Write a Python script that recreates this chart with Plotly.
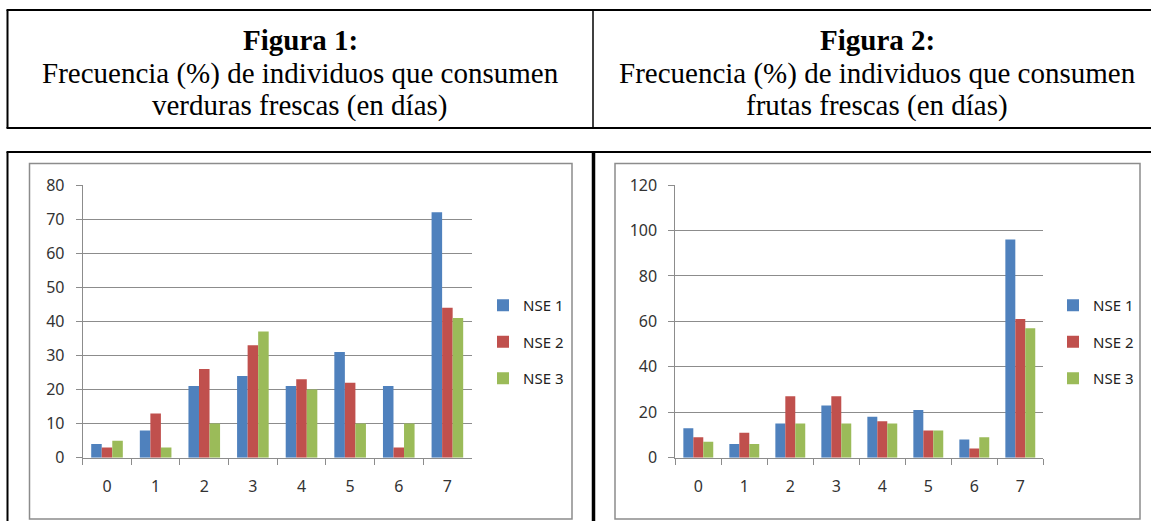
import plotly.graph_objects as go

W, H = 1151, 521

categorias = ["0", "1", "2", "3", "4", "5", "6", "7"]
series = ["NSE 1", "NSE 2", "NSE 3"]
verduras_nse1 = [4, 8, 21, 24, 21, 31, 21, 72]
verduras_nse2 = [3, 13, 26, 33, 23, 22, 3, 44]
verduras_nse3 = [5, 3, 10, 37, 20, 10, 10, 41]
frutas_nse1 = [13, 6, 15, 23, 18, 21, 8, 96]
frutas_nse2 = [9, 11, 27, 27, 16, 12, 4, 61]
frutas_nse3 = [7, 6, 15, 15, 15, 12, 9, 57]
colores = ["#4F81BD", "#C0504D", "#9BBB59"]

titulo1 = ["<b>Figura 1:</b>", "Frecuencia (%) de individuos que consumen", "verduras frescas (en días)"]
titulo2 = ["<b>Figura 2:</b>", "Frecuencia (%) de individuos que consumen", "frutas frescas (en días)"]


def px(x):
    return x / W


def py(y):
    return 1 - y / H


fig = go.Figure()

for vals, name, col in zip([verduras_nse1, verduras_nse2, verduras_nse3], series, colores):
    fig.add_trace(go.Bar(x=categorias, y=vals, name=name, marker=dict(color=col, line=dict(width=0)),
                         xaxis="x", yaxis="y", legend="legend", legendgroup=name + "a"))
for vals, name, col in zip([frutas_nse1, frutas_nse2, frutas_nse3], series, colores):
    fig.add_trace(go.Bar(x=categorias, y=vals, name=name, marker=dict(color=col, line=dict(width=0)),
                         xaxis="x2", yaxis="y2", legend="legend2", legendgroup=name + "b"))

tick_font = dict(family="Noto Sans", size=16, color="#333333")
axis_gray = "#8c8c8c"
grid_gray = "#8c8c8c"

xcommon = dict(type="category", showline=True, linecolor=axis_gray, linewidth=1,
               ticks="outside", tickson="boundaries", ticklen=6, tickcolor=axis_gray,
               showgrid=False, tickfont=tick_font, ticklabelstandoff=14, range=[-0.5, 7.5])
ycommon = dict(showline=True, linecolor=axis_gray, linewidth=1, ticks="outside", ticklen=6,
               tickcolor=axis_gray, showgrid=True, gridcolor=grid_gray, gridwidth=1,
               tickfont=tick_font, zeroline=False, ticklabelstandoff=8)

top, bot = 185, 457.7
legend_font = dict(family="Noto Sans", size=15, color="#222222")
fig.update_layout(
    width=W, height=H, autosize=False,
    margin=dict(l=0, r=0, t=0, b=0, pad=0, autoexpand=False),
    paper_bgcolor="white", plot_bgcolor="white",
    barmode="group", bargap=0.35, bargroupgap=0,
    xaxis=dict(domain=[px(82.7), px(471.7)], anchor="y", **xcommon),
    yaxis=dict(domain=[py(bot), py(top)], anchor="x", range=[0, 80], dtick=10, **ycommon),
    xaxis2=dict(domain=[px(675.3), px(1043.3)], anchor="y2", **xcommon),
    yaxis2=dict(domain=[py(bot), py(top)], anchor="x2", range=[0, 120], dtick=20, **ycommon),
    legend=dict(x=px(483), y=py(342), xanchor="left", yanchor="middle", bgcolor="rgba(0,0,0,0)",
                font=legend_font, tracegroupgap=14, itemwidth=30),
    legend2=dict(x=px(1053), y=py(342), xanchor="left", yanchor="middle", bgcolor="rgba(0,0,0,0)",
                 font=legend_font, tracegroupgap=14, itemwidth=30),
    showlegend=True,
)

shapes = []


def line(x0, y0, x1, y1, w, c="black"):
    shapes.append(dict(type="line", xref="paper", yref="paper", x0=px(x0), y0=py(y0), x1=px(x1), y1=py(y1),
                       line=dict(color=c, width=w)))


# table lines
line(6.5, 10, 1151, 10, 2)
line(6.5, 128, 1151, 128, 2)
line(6.5, 152, 1151, 152, 2)
line(7.5, 10, 7.5, 128, 2)
line(7.5, 152, 7.5, 521, 2)
line(593, 10, 593, 128, 1.5)
line(593.5, 152, 593.5, 521, 3.5)

# chart frames
for x0, x1 in [(29.5, 572), (615, 1140)]:
    shapes.append(dict(type="rect", xref="paper", yref="paper", x0=px(x0), x1=px(x1), y0=py(519), y1=py(163.5),
                       line=dict(color=axis_gray, width=1.5), fillcolor="rgba(0,0,0,0)"))

fig.update_layout(shapes=shapes)

serif = "Liberation Serif, Times New Roman, serif"
for cx, lines in [(300, titulo1), (877, titulo2)]:
    for txt, cy in zip(lines, [40, 73, 106]):
        fig.add_annotation(x=px(cx), y=py(cy), xref="paper", yref="paper", text=txt, showarrow=False,
                           xanchor="center", yanchor="middle",
                           font=dict(family=serif, size=29, color="black"))

fig.write_html("out.html",
               config={"displayModeBar": False},
               post_script="document.body.style.margin='0';document.body.style.overflow='hidden';")
